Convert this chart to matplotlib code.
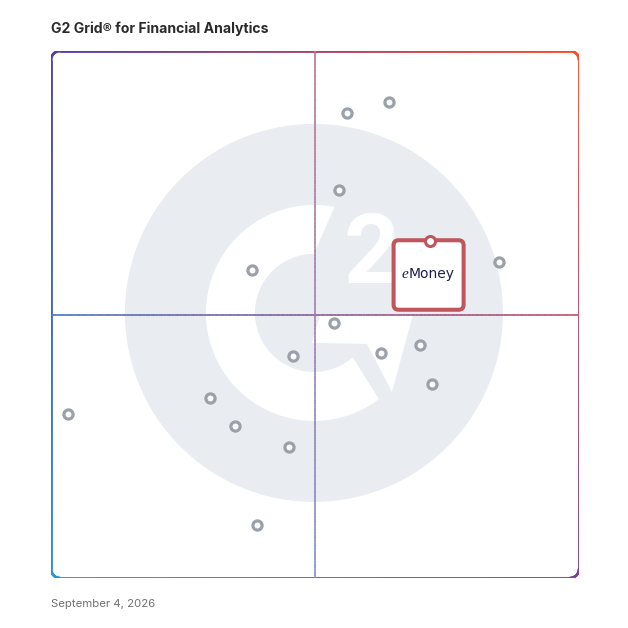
import numpy as np
import matplotlib.pyplot as plt
from matplotlib.collections import LineCollection
from matplotlib.patches import Circle, Polygon, FancyBboxPatch
from matplotlib.transforms import ScaledTranslation

# product positions on the grid, 0-100 on both axes
prod_x = [56.1, 64.0, 54.5, 38.1, 84.8, 53.6, 45.8, 62.5, 69.9, 72.2, 3.2, 30.1, 34.8, 45.1, 39.0]
prod_y = [88.2, 90.3, 73.6, 58.4, 59.9, 48.4, 42.1, 42.7, 44.2, 36.8, 31.1, 34.2, 28.8, 24.9, 10.0]

# the highlighted product
hl_name = "Money"
hl_x = 71.8
hl_y = 63.9

title = "G2 Grid\u00ae for Financial Analytics"
date_label = "September 4, 2026"

# border gradient corners
col_tl = '#5840aa'
col_tr = '#ff4b28'
col_bl = '#2896d7'
col_br = '#7d3ca0'


def hex2rgb(h):
    return np.array([int(h[i:i + 2], 16) for i in (1, 3, 5)]) / 255.0


TL, TR, BL, BR = [hex2rgb(c) for c in (col_tl, col_tr, col_bl, col_br)]


def grad(u, v):
    # u: 0 left -> 1 right, v: 0 bottom -> 1 top
    u = np.asarray(u)[:, None]
    v = np.asarray(v)[:, None]
    top = (1 - u) * TL + u * TR
    bot = (1 - u) * BL + u * BR
    return np.clip(v * top + (1 - v) * bot, 0, 1)


def densify(pts, step=2.0):
    out = [pts[0]]
    for a, b in zip(pts[:-1], pts[1:]):
        n = max(int(np.hypot(*(b - a)) / step), 1)
        for t in np.linspace(0, 1, n + 1)[1:]:
            out.append(a + (b - a) * t)
    return np.array(out)


def rounded_rect(w, h, r, n=20):
    pts = []
    for cx, cy, a0, a1 in [(w - r, h - r, 0, 90), (r, h - r, 90, 180),
                           (r, r, 180, 270), (w - r, r, 270, 360)]:
        a = np.radians(np.linspace(a0, a1, n))
        pts += list(zip(cx + r * np.cos(a), cy + r * np.sin(a)))
    pts.append(pts[0])
    return densify(np.array(pts))


def grad_line(ax, pts, lw, lighten=0.0):
    segs = np.stack([pts[:-1], pts[1:]], axis=1)
    mid = segs.mean(axis=1)
    cols = grad(mid[:, 0], mid[:, 1])
    cols = cols * (1 - lighten) + lighten
    lc = LineCollection(segs, colors=cols, linewidths=lw,
                        transform=ax.transAxes, capstyle='round', zorder=3)
    ax.add_collection(lc)


fig = plt.figure(figsize=(6.28, 6.28), dpi=100)
W, H = 528, 527
ax = fig.add_axes([51 / 628, 50 / 628, W / 628, H / 628])
ax.set_xlim(0, 100)
ax.set_ylim(0, 100)
ax.axis('off')

# G2 watermark, sizes in inches around the grid centre
logo_tr = fig.dpi_scale_trans + ScaledTranslation(49.8, 50.3, ax.transData)
ax.add_patch(Circle((0, 0), 1.89, transform=logo_tr, fc='#e9ecf0', ec='none', zorder=0))
a_out = np.radians(np.linspace(79, 307, 120))
a_in = np.radians(np.linspace(311, 90, 120))
ring = np.concatenate([np.c_[1.08 * np.cos(a_out), 1.08 * np.sin(a_out)],
                       np.c_[0.59 * np.cos(a_in), 0.59 * np.sin(a_in)]])
ax.add_patch(Polygon(ring, closed=True, transform=logo_tr, fc='white', ec='none', zorder=1))
vshape = np.array([(6, -2), (99, -2), (78, -79), (53, -31), (-2, -30)]) / 100.0
ax.add_patch(Polygon(vshape, closed=True, transform=logo_tr, fc='white', ec='none', zorder=1))
ax.text(0.58, 0.30, '2', transform=logo_tr, ha='center', va='baseline', fontsize=70,
        fontweight='bold', family='Roboto', color='white', zorder=1)

# frame and quadrant lines
border = rounded_rect(W, H, 9)
grad_line(ax, border / [W, H], 1.9)
t = np.linspace(0, 1, 200)
grad_line(ax, np.c_[t, np.full_like(t, 0.5)], 1.1, lighten=0.05)
grad_line(ax, np.c_[np.full_like(t, 0.5), t], 1.1, lighten=0.25)

# products
ax.plot(prod_x, prod_y, 'o', ms=6.6, mfc='white', mec='#9ba1ab', mew=2.3, zorder=5)

# highlighted product card
pin_tr = fig.dpi_scale_trans + ScaledTranslation(hl_x, hl_y, ax.transData)
ax.add_patch(FancyBboxPatch((-0.365, -0.685), 0.70, 0.695,
                            boxstyle='round,pad=0,rounding_size=0.05',
                            transform=pin_tr, fc='white', ec='#c0565b', lw=2.9, zorder=6))
ax.plot([hl_x], [hl_y], 'o', ms=7.2, mfc='white', mec='#c0565b', mew=2.2, zorder=7)
ax.text(-0.215, -0.37, hl_name, transform=pin_tr, ha='left', va='baseline',
        fontsize=10, color='#1b1f4b', zorder=7)
ax.text(-0.215, -0.37, 'e', transform=pin_tr, ha='right', va='baseline', fontsize=11,
        family='Liberation Serif', style='italic', color='#1b1f4b', zorder=7)

fig.text(51 / 628, 1 - 29 / 628, title, ha='left', va='center', fontsize=10.1,
         fontweight='bold', family='Inter', color='#2b2b2b')
fig.text(51 / 628, 1 - 604 / 628, date_label, ha='left', va='center', fontsize=8.2,
         family='Inter', color='#707070')

fig.savefig('out.png', dpi=100)
